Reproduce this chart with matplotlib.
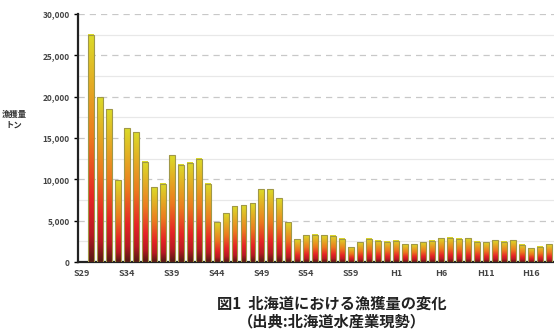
import numpy as np
import matplotlib
matplotlib.use("Agg")
import matplotlib.pyplot as plt
from matplotlib.colors import LinearSegmentedColormap
from matplotlib.ticker import FuncFormatter, MultipleLocator

plt.rcParams['font.family'] = ['Noto Sans CJK JP', 'DejaVu Sans']

# 昭和29年〜平成18年 (no bar is drawn for S29 in the source)
years = [f"S{y}" for y in range(29, 64)] + [f"H{y}" for y in range(1, 19)]
catch = [np.nan, 27500, 19900, 18500, 9900, 16200, 15700, 12100, 9060, 9460,
         12900, 11760, 12000, 12500, 9460, 4830, 5920, 6730, 6850, 7130,
         8820, 8820, 7690, 4790, 2780, 3260, 3300, 3220, 3180, 2820,
         1810, 2380, 2820, 2580, 2420, 2580, 2130, 2170, 2380, 2580,
         2900, 2940, 2820, 2860, 2420, 2380, 2620, 2460, 2620, 2090,
         1690, 1850, 2130]
label_years = years[::5]

title1 = "図1  北海道における漁獲量の変化"
title2 = "（出典:北海道水産業現勢）"

# bottom -> top colour of each bar
cmap = LinearSegmentedColormap.from_list("bar", [
    (0.00, (0.33, 0.10, 0.08)),
    (0.12, (0.72, 0.10, 0.14)),
    (0.28, (0.90, 0.14, 0.15)),
    (0.55, (0.93, 0.48, 0.12)),
    (1.00, (0.86, 0.86, 0.16)),
])

fig = plt.figure(figsize=(5.54, 3.32), dpi=100)
ax = fig.add_axes([78 / 554, 70 / 332, 476 / 554, 248 / 332])

x = np.arange(len(years))
vals = np.array(catch, dtype=float)
w = 0.66
grad = np.linspace(0, 1, 256).reshape(-1, 1)
ok = ~np.isnan(vals)
for xi, h in zip(x[ok], vals[ok]):
    ax.imshow(grad, extent=[xi - w / 2, xi + w / 2, 0, h], origin='lower',
              cmap=cmap, aspect='auto', zorder=3, interpolation='bilinear')
ax.bar(x[ok], vals[ok], width=w, facecolor='none', edgecolor='#a09848',
       linewidth=0.8, zorder=4)

ax.set_xlim(-0.44, 52.6)
ax.set_ylim(0, 30000)

# grid: dashed at 5,000 steps, faint solid in between
ax.yaxis.set_major_locator(MultipleLocator(5000))
ax.yaxis.set_minor_locator(MultipleLocator(2500))
ax.yaxis.grid(True, which='major', color='#c8c8c8', linestyle=(0, (5, 4)), linewidth=0.9)
ax.yaxis.grid(True, which='minor', color='#e8e8e8', linestyle='-', linewidth=0.9)
ax.set_axisbelow(True)
ax.tick_params(axis='y', which='minor', length=0)
ax.yaxis.set_major_formatter(FuncFormatter(lambda v, p: f"{int(v):,}"))
ax.tick_params(axis='y', which='major', length=3, width=1, direction='out',
               labelsize=6, labelcolor='#444444', pad=3)

ax.set_xticks(x[::5])
ax.set_xticklabels(label_years)
ax.tick_params(axis='x', length=0, labelsize=6.5, labelcolor='#444444', pad=5)
for lab in ax.get_xticklabels() + ax.get_yticklabels():
    lab.set_fontweight('bold')

for s in ['top', 'right']:
    ax.spines[s].set_visible(False)
ax.spines['left'].set_linewidth(1.6)
ax.spines['bottom'].set_linewidth(1.6)
ax.spines['left'].set_color('#222222')
ax.spines['bottom'].set_color('#222222')

fig.text(14 / 554, 1 - 120 / 332, "漁獲量\nトン", fontsize=6, fontweight='bold',
         ha='center', va='center', color='#333333', linespacing=1.2)
fig.text(332 / 554, 1 - 304 / 332, title1, fontsize=11, fontweight='bold',
         ha='center', va='center', color='#222222')
fig.text(332 / 554, 1 - 321 / 332, title2, fontsize=11, fontweight='bold',
         ha='center', va='center', color='#222222')

fig.savefig("out.png", dpi=100)
